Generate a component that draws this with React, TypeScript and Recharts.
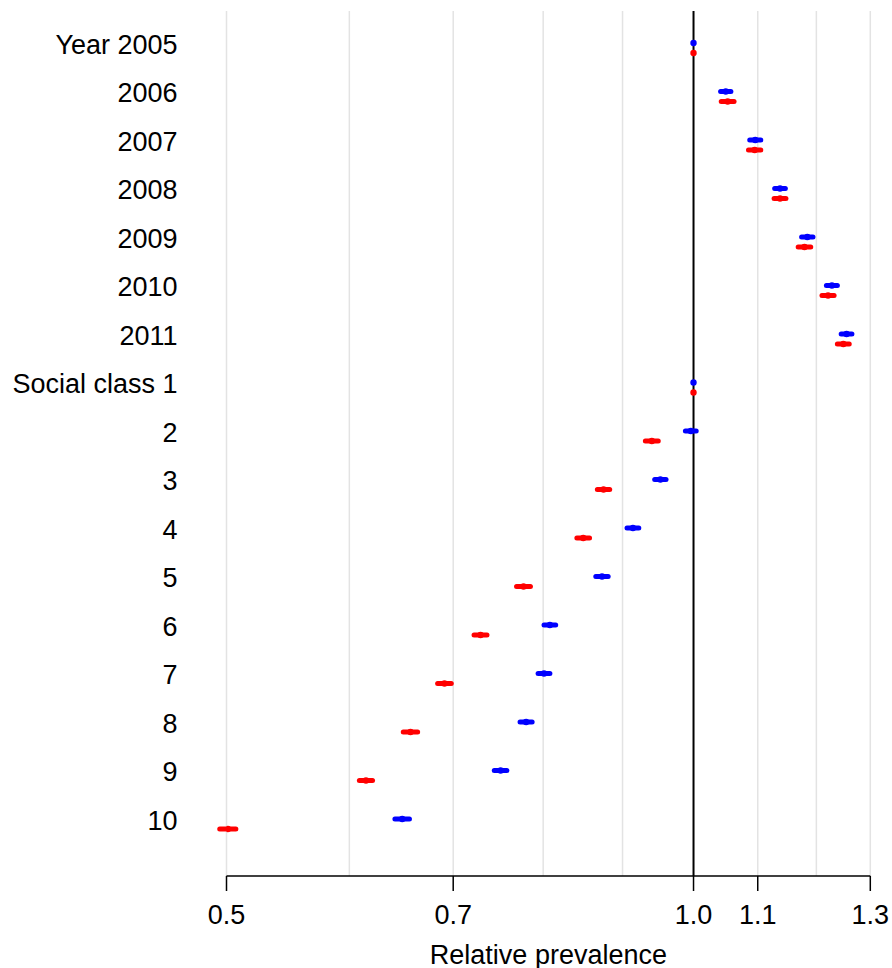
import React from "react";
import { ScatterChart, Scatter, XAxis, YAxis, ReferenceLine, Label } from "recharts";

// Row labels, top to bottom
const rowLabels = [
  "Year 2005", "2006", "2007", "2008", "2009", "2010", "2011",
  "Social class 1", "2", "3", "4", "5", "6", "7", "8", "9", "10",
];

// Blue series: point estimate and 95% interval (null = reference level)
const blueEst = [1.0, 1.049, 1.096, 1.137, 1.184, 1.228, 1.255, 1.0, 0.996, 0.952, 0.914, 0.873, 0.808, 0.801, 0.78, 0.751, 0.649];
const blueLow = [null, 1.041, 1.087, 1.128, 1.174, 1.218, 1.245, null, 0.988, 0.944, 0.906, 0.865, 0.801, 0.794, 0.773, 0.744, 0.642];
const blueHigh = [null, 1.057, 1.105, 1.146, 1.194, 1.238, 1.265, null, 1.004, 0.96, 0.922, 0.881, 0.815, 0.808, 0.787, 0.758, 0.656];

// Red series: point estimate and 95% interval (null = reference level)
const redEst = [1.0, 1.052, 1.095, 1.137, 1.179, 1.221, 1.249, 1.0, 0.94, 0.875, 0.849, 0.777, 0.729, 0.691, 0.657, 0.615, 0.501];
const redLow = [null, 1.042, 1.085, 1.127, 1.168, 1.21, 1.238, null, 0.931, 0.867, 0.841, 0.769, 0.722, 0.684, 0.65, 0.609, 0.495];
const redHigh = [null, 1.062, 1.105, 1.147, 1.19, 1.232, 1.26, null, 0.949, 0.883, 0.857, 0.785, 0.736, 0.698, 0.664, 0.621, 0.507];

// Axis ticks and light vertical guides
const xTicks = [0.5, 0.7, 1.0, 1.1, 1.3];
const gridValues = [0.5, 0.6, 0.7, 0.8, 0.9, 1.1, 1.2, 1.3];

const BLUE = "#0000ff";
const RED = "#ff0000";
const FONT = "'Liberation Sans', Arial, Helvetica, sans-serif";
const FONT_SIZE = 27;

// vertical nudge so the two series sit just above / below each row centre
const BLUE_SHIFT = -0.103;
const RED_SHIFT = 0.103;

const rowIndex = rowLabels.map((_, i) => i + 1);

const blueData = rowIndex.map((r, i) => ({ x: blueEst[i], y: r + BLUE_SHIFT }));
const redData = rowIndex.map((r, i) => ({ x: redEst[i], y: r + RED_SHIFT }));

const RowTick = (props: any) => {
  const { y, payload } = props;
  const label = rowLabels[payload.value - 1];
  return (
    <text x={177.5} y={y + 5.7} textAnchor="end" fontSize={FONT_SIZE} fontFamily={FONT} fill="#000">
      {label}
    </text>
  );
};

const ValueTick = (props: any) => {
  const { x, y, payload } = props;
  return (
    <text x={x} y={y + 32.5} textAnchor="middle" fontSize={FONT_SIZE} fontFamily={FONT} fill="#000">
      {Number(payload.value).toFixed(1)}
    </text>
  );
};

const Dot = (color: string) => (props: any) => {
  const { cx, cy } = props;
  return <circle cx={cx} cy={cy} r={3.2} fill={color} />;
};

export default function App() {
  return (
    <div style={{ position: "absolute", left: 0, top: 0, background: "#fff" }}>
      <ScatterChart
        width={892}
        height={968}
        margin={{ top: 11, right: 21.7, bottom: 0, left: 0 }}
        style={{ fontFamily: FONT }}
      >
        <XAxis
          type="number"
          dataKey="x"
          scale="log"
          domain={[0.5, 1.3]}
          allowDataOverflow
          ticks={xTicks}
          interval={0}
          height={92}
          tickSize={15}
          tickMargin={0}
          axisLine={{ stroke: "#000", strokeWidth: 1.5 }}
          tickLine={{ stroke: "#000", strokeWidth: 1.5 }}
          tick={<ValueTick />}
        >
          <Label
            value="Relative prevalence"
            position="insideBottom"
            offset={4.5}
            fontSize={FONT_SIZE}
            fontFamily={FONT}
            fill="#000"
          />
        </XAxis>
        <YAxis
          type="number"
          dataKey="y"
          domain={[0.237, 18.072]}
          allowDataOverflow
          reversed
          ticks={rowIndex}
          interval={0}
          width={226.5}
          axisLine={false}
          tickLine={false}
          tick={<RowTick />}
        />

        {gridValues.map((v) => (
          <ReferenceLine key={`g${v}`} x={v} stroke="#e3e3e3" strokeWidth={1.5} />
        ))}
        <ReferenceLine x={1.0} stroke="#000" strokeWidth={2} />

        {rowIndex.map((r, i) =>
          blueLow[i] != null ? (
            <ReferenceLine
              key={`bci${r}`}
              ifOverflow="visible"
              segment={[
                { x: blueLow[i] as number, y: r + BLUE_SHIFT },
                { x: blueHigh[i] as number, y: r + BLUE_SHIFT },
              ]}
              stroke={BLUE}
              strokeWidth={5}
              strokeLinecap="round"
            />
          ) : null
        )}
        {rowIndex.map((r, i) =>
          redLow[i] != null ? (
            <ReferenceLine
              key={`rci${r}`}
              ifOverflow="visible"
              segment={[
                { x: redLow[i] as number, y: r + RED_SHIFT },
                { x: redHigh[i] as number, y: r + RED_SHIFT },
              ]}
              stroke={RED}
              strokeWidth={5}
              strokeLinecap="round"
            />
          ) : null
        )}

        <Scatter data={blueData} fill={BLUE} shape={Dot(BLUE)} isAnimationActive={false} />
        <Scatter data={redData} fill={RED} shape={Dot(RED)} isAnimationActive={false} />
      </ScatterChart>
    </div>
  );
}
